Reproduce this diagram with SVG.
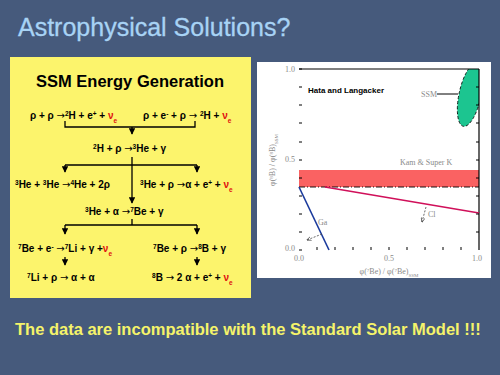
<svg xmlns="http://www.w3.org/2000/svg" width="500" height="375" viewBox="0 0 500 375">
<defs>
<style>
.rx{font-family:"Liberation Sans",Arial,sans-serif;font-size:10px;font-weight:bold;fill:#000}
.ar{font-family:"DejaVu Sans",sans-serif;font-weight:normal;font-size:10px}
.nu{fill:#e01010}
.sup{font-size:6.5px;baseline-shift:super}
.sub{font-size:6.5px;baseline-shift:sub}
.conn{stroke:#000;stroke-width:1.3;fill:none}
.ax{font-family:"Liberation Serif","Times New Roman",serif;font-size:8px;fill:#8a8a8a}
</style>
<marker id="ah" viewBox="0 0 10 10" refX="9" refY="5" markerWidth="5" markerHeight="5" orient="auto"><path d="M0,0 L10,5 L0,10 z" fill="#000"/></marker>
<marker id="ah2" viewBox="0 0 10 10" refX="9" refY="5" markerWidth="6" markerHeight="6" orient="auto"><path d="M0,1 L10,5 L0,9" fill="none" stroke="#444" stroke-width="1.5"/></marker>
<clipPath id="frame"><rect x="299" y="69" width="180" height="181"/></clipPath>
</defs>
<rect x="0" y="0" width="500" height="375" fill="#465a7c"/>
<text x="18" y="36" font-family="Liberation Sans,Arial,sans-serif" font-size="25" fill="#a8d3f5" stroke="#a8d3f5" stroke-width="0.3">Astrophysical Solutions?</text>

<g id="ssm-panel">
<rect x="10" y="57" width="241" height="241" fill="#fcf46c"/>
<text x="130" y="87" text-anchor="middle" font-family="Liberation Sans,Arial,sans-serif" font-size="16.5" font-weight="bold">SSM Energy Generation</text>
</g>

<g id="r1a"><text class="rx" x="30" y="119">ρ + ρ <tspan class="ar">→</tspan><tspan class="sup">2</tspan>H + e<tspan class="sup">+</tspan> + <tspan class="nu">ν</tspan><tspan class="nu sub">e</tspan></text></g>
<g id="r1b"><text class="rx" x="143" y="119">ρ + e<tspan class="sup">-</tspan> + ρ <tspan class="ar">→</tspan> <tspan class="sup">2</tspan>H + <tspan class="nu">ν</tspan><tspan class="nu sub">e</tspan></text></g>
<g id="r2"><text class="rx" x="93" y="152"><tspan class="sup">2</tspan>H + ρ <tspan class="ar">→</tspan><tspan class="sup">3</tspan>He + γ</text></g>
<g id="r3a"><text class="rx" x="15" y="188"><tspan class="sup">3</tspan>He + <tspan class="sup">3</tspan>He <tspan class="ar">→</tspan><tspan class="sup">4</tspan>He + 2ρ</text></g>
<g id="r3b"><text class="rx" x="140" y="188"><tspan class="sup">3</tspan>He + ρ <tspan class="ar">→</tspan>α + e<tspan class="sup">+</tspan> + <tspan class="nu">ν</tspan><tspan class="nu sub">e</tspan></text></g>
<g id="r4"><text class="rx" x="85" y="215"><tspan class="sup">3</tspan>He + α <tspan class="ar">→</tspan><tspan class="sup">7</tspan>Be + γ</text></g>
<g id="r5a"><text class="rx" x="18" y="252"><tspan class="sup">7</tspan>Be + e<tspan class="sup">-</tspan> <tspan class="ar">→</tspan><tspan class="sup">7</tspan>Li + γ +<tspan class="nu">ν</tspan><tspan class="nu sub">e</tspan></text></g>
<g id="r5b"><text class="rx" x="153" y="252"><tspan class="sup">7</tspan>Be + ρ <tspan class="ar">→</tspan><tspan class="sup">8</tspan>B + γ</text></g>
<g id="r6a"><text class="rx" x="27" y="281"><tspan class="sup">7</tspan>Li + ρ <tspan class="ar">→</tspan> α + α</text></g>
<g id="r6b"><text class="rx" x="152" y="281"><tspan class="sup">8</tspan>B <tspan class="ar">→</tspan> 2 α + e<tspan class="sup">+</tspan> + <tspan class="nu">ν</tspan><tspan class="nu sub">e</tspan></text></g>

<g id="connectors">
<path class="conn" d="M65,121 V127 H195 V121"/>
<path class="conn" d="M132,127 V134" marker-end="url(#ah)"/>
<path class="conn" d="M132,157 V203" marker-end="url(#ah)"/>
<path class="conn" d="M65,165 H197"/>
<path class="conn" d="M65,165 V172" marker-end="url(#ah)"/>
<path class="conn" d="M197,165 V172" marker-end="url(#ah)"/>
<path class="conn" d="M132,219 V225 M65,225 H197"/>
<path class="conn" d="M65,225 V234" marker-end="url(#ah)"/>
<path class="conn" d="M197,225 V234" marker-end="url(#ah)"/>
<path class="conn" d="M65,257 V265" marker-end="url(#ah)"/>
<path class="conn" d="M197,257 V265" marker-end="url(#ah)"/>
</g>

<g id="plot">
<rect x="257" y="62" width="234" height="216" fill="#fff"/>
<rect x="299" y="170" width="180" height="17" fill="#fa6262"/>
<g clip-path="url(#frame)">
<ellipse cx="470" cy="95" rx="11" ry="32" transform="rotate(12 470 95)" fill="#1cc590" stroke="#000" stroke-width="0.8" stroke-dasharray="3 2"/>
</g>
<line x1="299" y1="69" x2="479" y2="69" stroke="#000" stroke-width="1.2"/>
<line x1="479" y1="69" x2="479" y2="250" stroke="#000" stroke-width="1.2"/>
<line x1="299" y1="187" x2="479" y2="187" stroke="#000" stroke-width="0.9" stroke-dasharray="6 2 1 2"/>
<line x1="299" y1="187" x2="329" y2="250" stroke="#1a3a9c" stroke-width="1.6"/>
<line x1="325" y1="187" x2="479" y2="213" stroke="#d0105a" stroke-width="1.6"/>
<path d="M299,69 h3 M299,87 h3 M299,105 h3 M299,123 h3 M299,142 h3 M299,160 h3 M299,178 h3 M299,196 h3 M299,214 h3 M299,232 h3 M299,250 h3" stroke="#000" stroke-width="1"/>
<path d="M479,87 h-3 M479,105 h-3 M479,123 h-3 M479,142 h-3 M479,160 h-3 M479,178 h-3 M479,196 h-3 M479,214 h-3 M479,232 h-3" stroke="#000" stroke-width="1"/>
<path d="M317,250 v-3 M335,250 v-3 M353,250 v-3 M371,250 v-3 M389,250 v-3 M407,250 v-3 M425,250 v-3 M443,250 v-3 M461,250 v-3" stroke="#000" stroke-width="1"/>
<line x1="437" y1="94" x2="458" y2="94" stroke="#000" stroke-width="1"/>
<line x1="322" y1="234" x2="307" y2="240" stroke="#444" stroke-width="0.8" stroke-dasharray="2 1.5" marker-end="url(#ah2)"/>
<line x1="426" y1="207" x2="422" y2="222" stroke="#444" stroke-width="0.8" stroke-dasharray="2 1.5" marker-end="url(#ah2)"/>
<text x="308" y="93" font-family="Liberation Sans,Arial,sans-serif" font-size="8" font-weight="bold" fill="#000">Hata and Langacker</text>
<text class="ax" x="421" y="97">SSM</text>
<text class="ax" x="400" y="165" fill="#777">Kam &amp; Super K</text>
<text class="ax" x="318" y="225">Ga</text>
<text class="ax" x="428" y="217">Cl</text>
<text class="ax" x="295" y="72" text-anchor="end">1.0</text>
<text class="ax" x="295" y="162" text-anchor="end">0.5</text>
<text class="ax" x="295" y="251" text-anchor="end">0.0</text>
<text class="ax" x="299" y="261" text-anchor="middle">0.0</text>
<text class="ax" x="389" y="261" text-anchor="middle">0.5</text>
<text class="ax" x="477" y="261" text-anchor="middle">1.0</text>
<text class="ax" x="389" y="274" text-anchor="middle">φ(<tspan font-size="5" baseline-shift="super">7</tspan>Be) / φ(<tspan font-size="5" baseline-shift="super">7</tspan>Be)<tspan font-size="5" baseline-shift="sub">SSM</tspan></text>
<text class="ax" transform="translate(275 160) rotate(-90)" text-anchor="middle">φ(<tspan font-size="5" baseline-shift="super">8</tspan>B) / φ(<tspan font-size="5" baseline-shift="super">8</tspan>B)<tspan font-size="5" baseline-shift="sub">SSM</tspan></text>
</g>

<text x="15" y="335" font-family="Liberation Sans,Arial,sans-serif" font-size="16.5" font-weight="bold" fill="#f5f36a">The data are incompatible with the Standard Solar Model !!!</text>
</svg>
